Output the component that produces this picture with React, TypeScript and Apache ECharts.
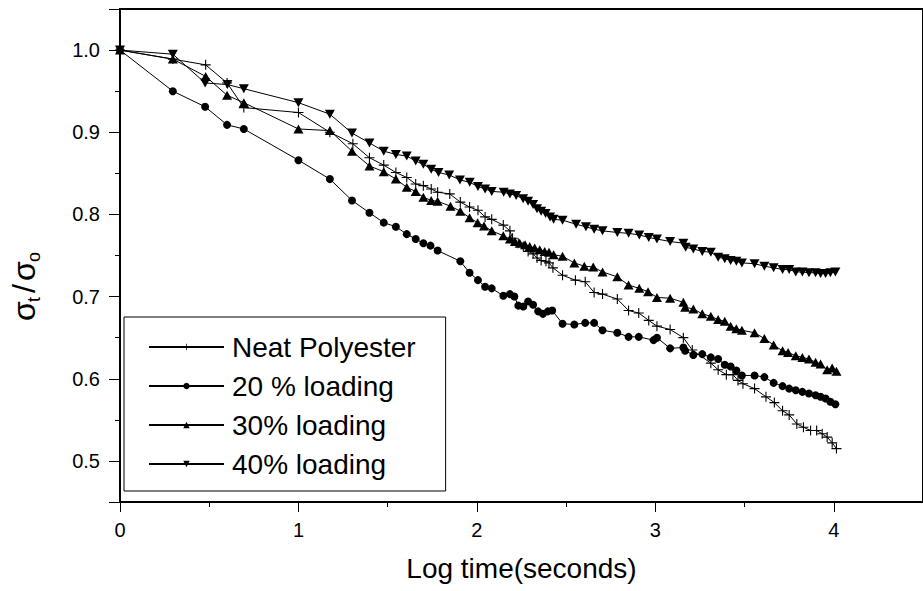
import React, { useEffect, useRef } from "react";
import * as echarts from "echarts";

const seriesNames = ["Neat Polyester", "20 % loading", "30% loading", "40% loading"];

const neatPolyester: number[][] = [
  [0, 1.0], [0.296, 0.989], [0.48, 0.982], [0.6, 0.96], [0.694, 0.93], [1.0, 0.924], [1.176, 0.9], [1.305, 0.886],
  [1.398, 0.869], [1.478, 0.86], [1.546, 0.851], [1.607, 0.845], [1.657, 0.837], [1.7, 0.835], [1.744, 0.831],
  [1.78, 0.827], [1.848, 0.825], [1.907, 0.815], [1.959, 0.809], [2.006, 0.805], [2.046, 0.797], [2.083, 0.794],
  [2.148, 0.787], [2.185, 0.78], [2.2, 0.771], [2.232, 0.765], [2.26, 0.761], [2.287, 0.755], [2.315, 0.752],
  [2.337, 0.747], [2.36, 0.744], [2.387, 0.743], [2.404, 0.741], [2.426, 0.735], [2.48, 0.726], [2.552, 0.72],
  [2.607, 0.718], [2.657, 0.705], [2.704, 0.703], [2.787, 0.697], [2.85, 0.683], [2.907, 0.68], [2.963, 0.671],
  [3.009, 0.664], [3.083, 0.66], [3.157, 0.65], [3.207, 0.635], [3.311, 0.619], [3.352, 0.611], [3.398, 0.605],
  [3.435, 0.605], [3.463, 0.598], [3.491, 0.594], [3.556, 0.588], [3.62, 0.578], [3.667, 0.571], [3.713, 0.561],
  [3.75, 0.556], [3.793, 0.545], [3.83, 0.541], [3.87, 0.537], [3.904, 0.537], [3.935, 0.533], [3.963, 0.529],
  [3.991, 0.522], [4.015, 0.515],
];

const loading20: number[][] = [
  [0, 1.0], [0.296, 0.95], [0.477, 0.931], [0.6, 0.909], [0.694, 0.904], [1.0, 0.866], [1.176, 0.843], [1.3, 0.817],
  [1.398, 0.802], [1.478, 0.79], [1.546, 0.785], [1.607, 0.776], [1.657, 0.77], [1.7, 0.765], [1.74, 0.762],
  [1.78, 0.756], [1.907, 0.743], [1.959, 0.729], [2.006, 0.72], [2.046, 0.712], [2.083, 0.71], [2.148, 0.701],
  [2.185, 0.703], [2.21, 0.7], [2.232, 0.689], [2.26, 0.688], [2.287, 0.694], [2.315, 0.69], [2.343, 0.682],
  [2.37, 0.679], [2.398, 0.682], [2.422, 0.683], [2.48, 0.667], [2.546, 0.666], [2.607, 0.668], [2.657, 0.668],
  [2.704, 0.659], [2.787, 0.656], [2.85, 0.651], [2.907, 0.651], [2.99, 0.647], [3.009, 0.65], [3.083, 0.637],
  [3.157, 0.638], [3.167, 0.634], [3.213, 0.629], [3.263, 0.63], [3.311, 0.626], [3.352, 0.624], [3.389, 0.617],
  [3.422, 0.615], [3.454, 0.61], [3.485, 0.604], [3.556, 0.604], [3.611, 0.602], [3.663, 0.595], [3.713, 0.591],
  [3.75, 0.588], [3.787, 0.586], [3.824, 0.584], [3.861, 0.582], [3.898, 0.58], [3.926, 0.578], [3.954, 0.576],
  [3.981, 0.572], [4.009, 0.569],
];

const loading30: number[][] = [
  [0, 1.0], [0.296, 0.989], [0.48, 0.968], [0.6, 0.945], [0.694, 0.936], [1.0, 0.904], [1.176, 0.902], [1.3, 0.877],
  [1.398, 0.859], [1.478, 0.852], [1.546, 0.843], [1.607, 0.833], [1.657, 0.828], [1.7, 0.821], [1.744, 0.817],
  [1.78, 0.816], [1.852, 0.81], [1.907, 0.804], [1.959, 0.796], [2.004, 0.79], [2.04, 0.786], [2.083, 0.78],
  [2.148, 0.774], [2.185, 0.77], [2.213, 0.767], [2.24, 0.765], [2.27, 0.763], [2.296, 0.761], [2.324, 0.759],
  [2.352, 0.757], [2.38, 0.755], [2.404, 0.754], [2.43, 0.751], [2.48, 0.749], [2.546, 0.741], [2.602, 0.737],
  [2.652, 0.736], [2.704, 0.73], [2.787, 0.724], [2.85, 0.714], [2.91, 0.71], [2.959, 0.706], [3.009, 0.699],
  [3.083, 0.698], [3.157, 0.693], [3.167, 0.687], [3.213, 0.685], [3.263, 0.679], [3.311, 0.676], [3.352, 0.672],
  [3.389, 0.67], [3.422, 0.664], [3.454, 0.661], [3.485, 0.659], [3.556, 0.656], [3.611, 0.649], [3.663, 0.641],
  [3.713, 0.634], [3.744, 0.632], [3.787, 0.628], [3.824, 0.626], [3.861, 0.624], [3.898, 0.62], [3.926, 0.618],
  [3.963, 0.611], [3.991, 0.613], [4.015, 0.609],
];

const loading40: number[][] = [
  [0, 1.0], [0.296, 0.995], [0.477, 0.96], [0.602, 0.958], [0.694, 0.953], [1.0, 0.936], [1.176, 0.922], [1.3, 0.899],
  [1.398, 0.887], [1.478, 0.877], [1.546, 0.873], [1.607, 0.871], [1.657, 0.865], [1.7, 0.861], [1.744, 0.855],
  [1.785, 0.851], [1.845, 0.848], [1.905, 0.842], [1.96, 0.839], [2.006, 0.834], [2.046, 0.831], [2.083, 0.828],
  [2.15, 0.827], [2.185, 0.825], [2.22, 0.823], [2.259, 0.819], [2.287, 0.816], [2.315, 0.812], [2.337, 0.807],
  [2.36, 0.804], [2.385, 0.801], [2.41, 0.797], [2.43, 0.794], [2.48, 0.793], [2.556, 0.788], [2.611, 0.785],
  [2.657, 0.782], [2.704, 0.78], [2.787, 0.778], [2.85, 0.777], [2.91, 0.775], [2.963, 0.772], [3.009, 0.77],
  [3.083, 0.767], [3.157, 0.765], [3.17, 0.76], [3.213, 0.758], [3.263, 0.755], [3.311, 0.754], [3.352, 0.748],
  [3.389, 0.746], [3.422, 0.744], [3.454, 0.743], [3.485, 0.741], [3.556, 0.74], [3.611, 0.737], [3.663, 0.735],
  [3.713, 0.733], [3.75, 0.733], [3.787, 0.73], [3.824, 0.73], [3.861, 0.729], [3.898, 0.729], [3.926, 0.728],
  [3.954, 0.728], [3.981, 0.729], [4.009, 0.73],
];

const FONT = "'Liberation Sans', Arial, Helvetica, sans-serif";
const PLUS = "path://M4.45,0h1.1v4.45h4.45v1.1h-4.45v4.45h-1.1v-4.45h-4.45v-1.1h4.45z";
const TRI_UP = "path://M5,0L10,9L0,9Z";
const TRI_DOWN = "path://M0,0L10,0L5,9Z";

export default function App() {
  const ref = useRef<HTMLDivElement>(null);
  useEffect(() => {
    if (!ref.current) return;
    const chart = echarts.init(ref.current, undefined, { renderer: "svg" });
    const mk = (name: string, data: number[][], symbol: string, size: number | number[]) => ({
      name,
      type: "line",
      data,
      symbol,
      symbolSize: size,
      showAllSymbol: true,
      lineStyle: { color: "#000", width: 1 },
      itemStyle: { color: "#000" },
      emphasis: { disabled: true },
    });
    const big = (text: string, x: number) => ({
      type: "text",
      x,
      y: 0,
      style: { text, font: `32px ${FONT}`, fill: "#000", verticalAlign: "middle", align: "left" },
    });
    const sub = (text: string, x: number) => ({
      type: "text",
      x,
      y: 10,
      style: { text, font: `18px ${FONT}`, fill: "#000", verticalAlign: "middle", align: "left" },
    });
    chart.setOption({
      animation: false,
      backgroundColor: "#fff",
      grid: { left: 120, top: 9, width: 810, height: 493, show: true, borderColor: "#000", borderWidth: 2 },
      xAxis: {
        type: "value",
        min: 0,
        max: 4.5,
        interval: 1,
        name: "Log time(seconds)",
        nameLocation: "middle",
        nameGap: 52,
        nameTextStyle: { fontFamily: FONT, fontSize: 28, color: "#000" },
        axisLine: { lineStyle: { color: "#000", width: 2 } },
        axisTick: { length: 10, lineStyle: { color: "#000", width: 1 } },
        minorTick: { show: true, splitNumber: 2, length: 5, lineStyle: { color: "#000", width: 1 } },
        splitLine: { show: false },
        axisLabel: { fontFamily: FONT, fontSize: 20, color: "#000", margin: 18, showMaxLabel: false },
      },
      yAxis: {
        type: "value",
        min: 0.45,
        max: 1.05,
        splitNumber: 6,
        axisLine: { show: true, lineStyle: { color: "#000", width: 2 } },
        axisTick: { show: true, length: 11, lineStyle: { color: "#000", width: 1 } },
        minorTick: { show: true, splitNumber: 2, length: 5, lineStyle: { color: "#000", width: 1 } },
        splitLine: { show: false },
        axisLabel: {
          fontFamily: FONT,
          fontSize: 20,
          color: "#000",
          margin: 20,
          showMinLabel: false,
          showMaxLabel: false,
          formatter: (v: number) => v.toFixed(1),
        },
      },
      legend: {
        data: seriesNames,
        orient: "vertical",
        left: 124,
        top: 317,
        padding: [16, 30, 13, 24],
        itemWidth: 75,
        itemHeight: 8,
        itemGap: 11,
        borderColor: "#000",
        borderWidth: 1,
        textStyle: { fontFamily: FONT, fontSize: 28, color: "#000", lineHeight: 28, padding: [0, 0, 0, 3] },
      },
      graphic: [
        {
          type: "group",
          x: 24,
          y: 321,
          rotation: Math.PI / 2,
          children: [big("σ", 0), sub("t", 19), big("/", 28), big("σ", 40), sub("o", 59)],
        },
      ],
      series: [
        mk(seriesNames[0], neatPolyester, PLUS, 10),
        mk(seriesNames[1], loading20, "circle", 8),
        mk(seriesNames[2], loading30, TRI_UP, [10, 9]),
        mk(seriesNames[3], loading40, TRI_DOWN, [10, 9]),
      ],
    });
    return () => chart.dispose();
  }, []);
  return <div ref={ref} style={{ position: "fixed", left: 0, top: 0, width: 923, height: 591 }} />;
}
